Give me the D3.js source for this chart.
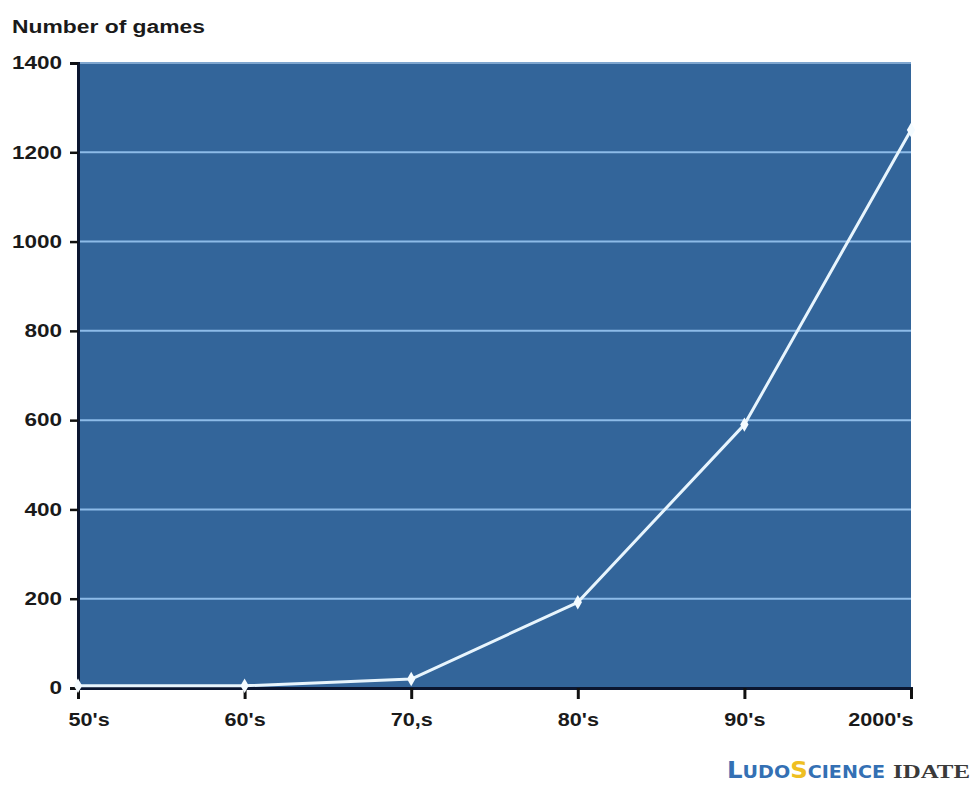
<!DOCTYPE html>
<html>
<head>
<meta charset="utf-8">
<script src="https://cdn.jsdelivr.net/npm/d3@7"></script>
<style>
  html, body { margin: 0; padding: 0; background: #fff; }
  svg { display: block; }
</style>
</head>
<body>
<svg id="chart" width="973" height="787"></svg>
<script>
// Games released per decade
const decades = ["50's", "60's", "70,s", "80's", "90's", "2000's"];
const games = [5, 5, 20, 192, 590, 1250];
const yTicks = [0, 200, 400, 600, 800, 1000, 1200, 1400];

const W = 973, H = 787;
const margin = { left: 78, right: 62, top: 63, bottom: 99 };
const svg = d3.select("#chart");
const sans = "'Liberation Sans', Arial, sans-serif";

const x = d3.scalePoint().domain(decades).range([margin.left, W - margin.right]);
const y = d3.scaleLinear().domain([0, 1400]).range([H - margin.bottom, margin.top]);

// widen a text element horizontally by a factor
function widen(sel, k) {
  sel.each(function () {
    const len = this.getComputedTextLength();
    d3.select(this).attr("textLength", len * k).attr("lengthAdjust", "spacingAndGlyphs");
  });
}

// plot area
svg.append("rect")
  .attr("x", margin.left).attr("y", margin.top)
  .attr("width", W - margin.right - margin.left)
  .attr("height", H - margin.bottom - margin.top)
  .attr("fill", "#33659a");

// horizontal grid
svg.append("g").selectAll("line")
  .data(yTicks.filter(d => d > 0))
  .join("line")
  .attr("x1", margin.left).attr("x2", W - margin.right)
  .attr("y1", d => y(d)).attr("y2", d => y(d))
  .attr("stroke", d => d === 1400 ? "#7fa6cf" : "#8dbbe8")
  .attr("stroke-width", 2);

// y axis
const yAxis = svg.append("g")
  .attr("transform", `translate(${margin.left},0)`)
  .call(d3.axisLeft(y).tickValues(yTicks).tickFormat(d3.format("d")).tickSize(8).tickPadding(8));
yAxis.select(".domain").attr("stroke", "#0b1630").attr("stroke-width", 3);
yAxis.selectAll(".tick line").attr("stroke", "#111").attr("stroke-width", 2.5);
yAxis.selectAll(".tick text")
  .style("font-family", sans)
  .attr("font-size", 18).attr("font-weight", "bold").attr("fill", "#1a1a1a")
  .call(widen, 1.25);

// x axis
const xAxis = svg.append("g")
  .attr("transform", `translate(0,${H - margin.bottom})`)
  .call(d3.axisBottom(x).tickSize(11).tickPadding(14));
xAxis.select(".domain").attr("stroke", "#0b1630").attr("stroke-width", 3);
xAxis.selectAll(".tick line").attr("stroke", "#111").attr("stroke-width", 3);
xAxis.selectAll(".tick text")
  .style("font-family", sans)
  .attr("font-size", 18).attr("font-weight", "bold").attr("fill", "#1a1a1a")
  .call(widen, 1.2);
// first and last labels sit inside the axis span
xAxis.selectAll(".tick text").filter(d => d === decades[0])
  .attr("text-anchor", "start").attr("x", -10);
xAxis.selectAll(".tick text").filter(d => d === decades[decades.length - 1])
  .attr("text-anchor", "end").attr("x", 2);

// data line
const pts = decades.map((d, i) => [x(d), y(games[i])]);
svg.append("path")
  .attr("d", d3.line()(pts))
  .attr("fill", "none")
  .attr("stroke", "#e8f5fd")
  .attr("stroke-width", 3)
  .attr("stroke-linejoin", "round");

svg.append("g").selectAll("path")
  .data(pts)
  .join("path")
  .attr("transform", d => `translate(${d[0]},${d[1]})`)
  .attr("d", d3.symbol(d3.symbolDiamond, 60))
  .attr("fill", "#f4fbff");

// axis title
svg.append("text")
  .attr("x", 12).attr("y", 33)
  .style("font-family", sans)
  .attr("font-size", 18).attr("font-weight", "bold").attr("fill", "#1a1a1a")
  .attr("textLength", 193).attr("lengthAdjust", "spacingAndGlyphs")
  .text("Number of games");

// source credits
const credit = svg.append("text")
  .attr("x", 727).attr("y", 778)
  .style("font-family", "'DejaVu Sans Condensed', 'DejaVu Sans', sans-serif")
  .attr("font-weight", "bold")
  .attr("font-size", 18)
  .attr("fill", "#3470b4");
credit.append("tspan").attr("font-size", 23).text("L");
credit.append("tspan").text("UDO");
credit.append("tspan").attr("font-size", 23).attr("fill", "#efbf22").text("S");
credit.append("tspan").text("CIENCE");
credit.attr("textLength", 158).attr("lengthAdjust", "spacingAndGlyphs");

svg.append("text")
  .attr("x", 893).attr("y", 778)
  .style("font-family", "'Liberation Serif', 'DejaVu Serif', serif")
  .attr("font-size", 19)
  .attr("font-weight", "bold")
  .attr("fill", "#3a3a3a")
  .attr("textLength", 77).attr("lengthAdjust", "spacingAndGlyphs")
  .text("IDATE");
</script>
</body>
</html>
